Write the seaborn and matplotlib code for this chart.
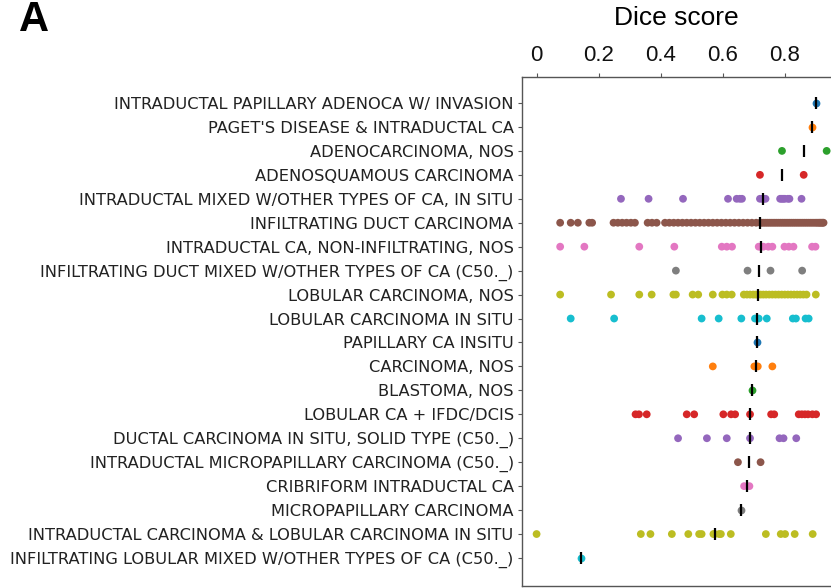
import numpy as np
import pandas as pd
import matplotlib
matplotlib.use("Agg")
import matplotlib.pyplot as plt
import seaborn as sns

categories = [
    "INTRADUCTAL PAPILLARY ADENOCA W/ INVASION",
    "PAGET'S DISEASE & INTRADUCTAL CA",
    "ADENOCARCINOMA, NOS",
    "ADENOSQUAMOUS CARCINOMA",
    "INTRADUCTAL MIXED W/OTHER TYPES OF CA, IN SITU",
    "INFILTRATING DUCT CARCINOMA",
    "INTRADUCTAL CA, NON-INFILTRATING, NOS",
    "INFILTRATING DUCT MIXED W/OTHER TYPES OF CA (C50._)",
    "LOBULAR CARCINOMA, NOS",
    "LOBULAR CARCINOMA IN SITU",
    "PAPILLARY CA INSITU",
    "CARCINOMA, NOS",
    "BLASTOMA, NOS",
    "LOBULAR CA + IFDC/DCIS",
    "DUCTAL CARCINOMA IN SITU, SOLID TYPE (C50._)",
    "INTRADUCTAL MICROPAPILLARY CARCINOMA (C50._)",
    "CRIBRIFORM INTRADUCTAL CA",
    "MICROPAPILLARY CARCINOMA",
    "INTRADUCTAL CARCINOMA & LOBULAR CARCINOMA IN SITU",
    "INFILTRATING LOBULAR MIXED W/OTHER TYPES OF CA (C50._)",
]

s_papillary_invasion = [0.902]
s_paget = [0.887]
s_adenocarcinoma = [0.791, 0.935]
s_adenosquamous = [0.720, 0.861]
s_intraductal_mixed = [0.272, 0.361, 0.472, 0.617, 0.645, 0.655, 0.662, 0.720, 0.728,
                       0.732, 0.738, 0.785, 0.790, 0.795, 0.800, 0.810, 0.815, 0.854]
s_infiltrating_duct = [0.076, 0.110, 0.133, 0.170, 0.179,
                       0.248, 0.262, 0.276, 0.290, 0.304, 0.317,
                       0.358, 0.372, 0.387,
                       0.414, 0.428, 0.442, 0.456, 0.470, 0.484, 0.498, 0.512, 0.526, 0.540,
                       0.554, 0.568, 0.582, 0.596, 0.610, 0.624, 0.638, 0.652, 0.666, 0.680,
                       0.694, 0.708, 0.721,
                       0.726, 0.732, 0.738, 0.744, 0.750, 0.756, 0.762, 0.768, 0.774, 0.780,
                       0.786, 0.792, 0.798, 0.804, 0.810, 0.816, 0.822, 0.828, 0.834, 0.840,
                       0.846, 0.852, 0.858, 0.864, 0.870, 0.876, 0.882, 0.888, 0.894, 0.900,
                       0.905, 0.910, 0.914, 0.918, 0.922, 0.925]
s_intraductal_nos = [0.076, 0.154, 0.331, 0.444, 0.597, 0.613, 0.630, 0.716, 0.722,
                     0.731, 0.747, 0.760, 0.799, 0.813, 0.828, 0.888, 0.899]
s_duct_mixed = [0.449, 0.680, 0.754, 0.856]
s_lobular_nos = [0.076, 0.240, 0.331, 0.371, 0.441, 0.449, 0.503, 0.521, 0.568, 0.599,
                 0.613, 0.629, 0.668, 0.678, 0.688, 0.698, 0.706, 0.713,
                 0.722, 0.731, 0.740, 0.750, 0.760, 0.770, 0.780, 0.790, 0.800, 0.810,
                 0.820, 0.830, 0.840, 0.850, 0.860, 0.870, 0.900]
s_lobular_insitu = [0.110, 0.250, 0.532, 0.587, 0.660, 0.704, 0.716, 0.742, 0.826,
                    0.836, 0.867, 0.877]
s_papillary_insitu = [0.709]
s_carcinoma_nos = [0.568, 0.702, 0.713, 0.760]
s_blastoma = [0.693]
s_lobular_ifdc = [0.319, 0.330, 0.355, 0.484, 0.508, 0.602, 0.627, 0.640, 0.688,
                  0.756, 0.766, 0.845, 0.855, 0.865, 0.875, 0.889, 0.901]
s_dcis_solid = [0.456, 0.549, 0.613, 0.688, 0.783, 0.796, 0.837]
s_intraductal_micropap = [0.649, 0.722]
s_cribriform = [0.669, 0.686]
s_micropap = [0.660]
s_intraductal_lobular = [0.000, 0.336, 0.367, 0.436, 0.489, 0.524, 0.532, 0.570, 0.574,
                         0.588, 0.594, 0.626, 0.739, 0.787, 0.801, 0.832, 0.890]
s_infiltrating_lobular_mixed = [0.143]

series = [s_papillary_invasion, s_paget, s_adenocarcinoma, s_adenosquamous,
          s_intraductal_mixed, s_infiltrating_duct, s_intraductal_nos, s_duct_mixed,
          s_lobular_nos, s_lobular_insitu, s_papillary_insitu, s_carcinoma_nos,
          s_blastoma, s_lobular_ifdc, s_dcis_solid, s_intraductal_micropap,
          s_cribriform, s_micropap, s_intraductal_lobular, s_infiltrating_lobular_mixed]

rows = []
for cat, vals in zip(categories, series):
    for v in vals:
        rows.append({"category": cat, "dice": v})
df = pd.DataFrame(rows)

W, H = 831, 588
fig = plt.figure(figsize=(W / 100, H / 100), dpi=100)
ax = fig.add_axes([522 / W, 2 / H, 1 - 522 / W, (586 - 77) / H])

palette = sns.color_palette("tab10", 10) * 2
sns.stripplot(data=df, x="dice", y="category", hue="category", order=categories,
              hue_order=categories, palette=palette, jitter=False, size=5.6,
              linewidth=0, legend=False, ax=ax, zorder=2)
sns.pointplot(data=df, x="dice", y="category", order=categories, estimator="median",
              errorbar=None, color="black", markers="|", linestyle="none",
              markersize=9, markeredgewidth=1.6, ax=ax, zorder=3)

ax.set_xlim(-0.047, 0.949)
ax.set_ylim(20.17, -1.086)
ax.xaxis.tick_top()
ax.xaxis.set_label_position("top")
ax.set_xticks([0, 0.2, 0.4, 0.6, 0.8])
ax.set_xticklabels(["0", "0.2", "0.4", "0.6", "0.8"], family="Liberation Sans", fontsize=16)
ax.set_xlabel("Dice score", family="Liberation Sans", fontsize=19, labelpad=14)
ax.set_ylabel("")
ax.tick_params(axis="y", labelsize=11.7, length=3, color="#555555", pad=3)
ax.tick_params(axis="x", length=3, color="#555555", pad=5)
for t in ax.get_yticklabels():
    t.set_family("DejaVu Sans")
    t.set_color("#222222")
for t in ax.get_xticklabels():
    t.set_color("#111111")
for side in ["left", "top", "bottom"]:
    ax.spines[side].set_color("#555555")
    ax.spines[side].set_linewidth(1.0)
ax.spines["right"].set_visible(False)

fig.text(19 / W, 1.0, "A", family="Liberation Sans", fontweight="bold",
         fontsize=30, va="top", ha="left")

fig.savefig("out.png", dpi=100)
